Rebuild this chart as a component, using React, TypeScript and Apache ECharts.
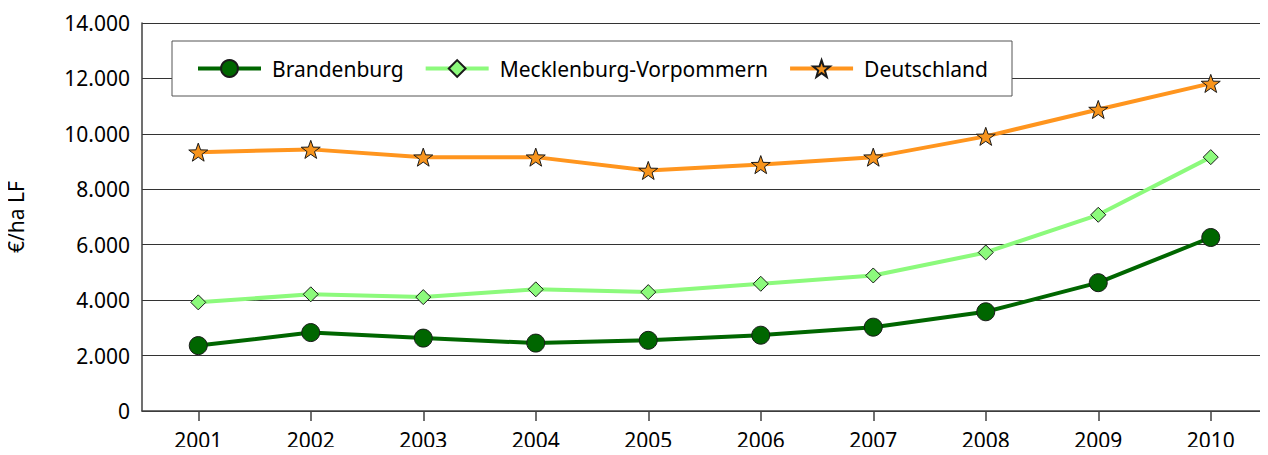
import React, { useEffect, useRef } from "react";
import * as echarts from "echarts";

const years = ["2001", "2002", "2003", "2004", "2005", "2006", "2007", "2008", "2009", "2010"];
const brandenburg = [2360, 2830, 2630, 2450, 2550, 2735, 3025, 3580, 4630, 6260];
const mecklenburg = [3920, 4210, 4110, 4390, 4290, 4590, 4890, 5720, 7080, 9160];
const deutschland = [9340, 9440, 9160, 9160, 8680, 8890, 9160, 9910, 10880, 11820];

const STAR =
  "path://M0,-10 L2.35,-3.24 L9.51,-3.09 L3.8,1.24 L5.88,8.09 L0,4 L-5.88,8.09 L-3.8,1.24 L-9.51,-3.09 L-2.35,-3.24 Z";

const FONT = "Noto Sans";

export default function App() {
  const ref = useRef<HTMLDivElement>(null);
  useEffect(() => {
    if (!ref.current) return;
    const chart = echarts.init(ref.current, null, { renderer: "svg" });
    chart.setOption({
      animation: false,
      textStyle: { fontFamily: FONT, color: "#000" },
      grid: { left: 142, right: 1, top: 23, bottom: 44, containLabel: false, outerBoundsMode: "none" },
      legend: {
        left: 172,
        top: 41,
        padding: [17, 24, 17, 24],
        itemWidth: 63,
        itemHeight: 21,
        itemGap: 20,
        borderColor: "#555",
        borderWidth: 1,
        backgroundColor: "#fff",
        lineStyle: { width: 4 },
        textStyle: { fontFamily: FONT, fontSize: 21, color: "#000", padding: [0, 0, 0, 6] },
        data: ["Brandenburg", "Mecklenburg-Vorpommern", "Deutschland"],
      },
      xAxis: {
        type: "category",
        data: years,
        boundaryGap: true,
        axisLine: { lineStyle: { color: "#404040", width: 1.5 } },
        axisTick: { show: true, alignWithLabel: true, length: 10, lineStyle: { color: "#404040", width: 1.5 } },
        axisLabel: { fontFamily: FONT, fontSize: 21, color: "#000", margin: 18 },
      },
      yAxis: {
        type: "value",
        min: 0,
        max: 14000,
        interval: 2000,
        name: "€/ha LF",
        nameLocation: "middle",
        nameGap: 116,
        nameTextStyle: { fontFamily: FONT, fontSize: 21, color: "#000" },
        axisLine: { show: true, lineStyle: { color: "#404040", width: 1.5 } },
        axisTick: { show: false },
        splitLine: { show: true, lineStyle: { color: "#333", width: 1 } },
        axisLabel: {
          fontFamily: FONT,
          fontSize: 21,
          color: "#000",
          margin: 12,
          formatter: (v: number) => (v === 0 ? "0" : v.toLocaleString("de-DE")),
        },
      },
      series: [
        {
          name: "Brandenburg",
          type: "line",
          data: brandenburg,
          symbol: "circle",
          symbolSize: 18,
          lineStyle: { color: "#006600", width: 4 },
          itemStyle: { color: "#006600", borderColor: "#1a1a1a", borderWidth: 1 },
          z: 3,
        },
        {
          name: "Mecklenburg-Vorpommern",
          type: "line",
          data: mecklenburg,
          symbol: "diamond",
          symbolSize: 15,
          lineStyle: { color: "#8CFA7C", width: 4 },
          itemStyle: { color: "#8CFA7C", borderColor: "#1a1a1a", borderWidth: 1 },
          z: 2,
        },
        {
          name: "Deutschland",
          type: "line",
          data: deutschland,
          symbol: STAR,
          symbolSize: 19,
          symbolKeepAspect: true,
          lineStyle: { color: "#FF951E", width: 4 },
          itemStyle: { color: "#F7941D", borderColor: "#1a1a1a", borderWidth: 1 },
          z: 2,
        },
      ],
    });
    return () => chart.dispose();
  }, []);
  return <div ref={ref} style={{ width: 1268, height: 455, margin: -8 }} />;
}
